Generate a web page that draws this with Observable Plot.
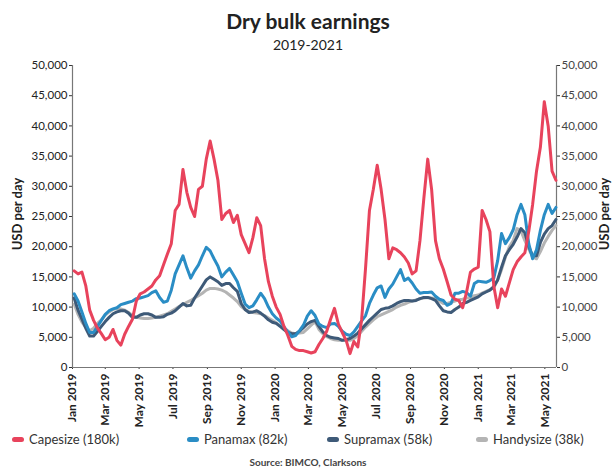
<!DOCTYPE html>
<html><head><meta charset="utf-8">
<script src="https://cdn.jsdelivr.net/npm/d3@7"></script>
<script src="https://cdn.jsdelivr.net/npm/@observablehq/plot@0.6"></script>
<style>
body{margin:0;background:#fff;font-family:Lato,"Open Sans",sans-serif;color:#333;}
#wrap{width:616px;height:471px;position:relative;overflow:hidden;}
.abs{position:absolute;white-space:nowrap;}
#title{top:8px;left:0;width:616px;text-align:center;font-weight:700;font-size:21px;color:#222;}
#sub{top:36px;left:0;width:616px;text-align:center;font-size:14px;color:#222;}
#chart{top:55px;left:0;}
.ylab{font-weight:700;font-size:13px;color:#222;transform:rotate(-90deg);transform-origin:center;}
.leg{top:431px;font-size:13px;color:#333;display:flex;align-items:center;}
.sw{display:inline-block;width:12px;height:5px;border-radius:3px;margin-right:5px;}
#src{top:456px;left:0;width:616px;text-align:center;font-size:10px;font-weight:700;color:#444;}
</style></head>
<body><div id="wrap">
<div id="title" class="abs">Dry bulk earnings</div>
<div id="sub" class="abs">2019-2021</div>
<div id="chart" class="abs"></div>
<div class="abs ylab" style="left:-23px;top:206px;width:80px;text-align:center;">USD per day</div>
<div class="abs ylab" style="left:564px;top:206px;width:80px;text-align:center;">USD per day</div>
<div id="legend"></div>
<div id="src" class="abs">Source: BIMCO, Clarksons</div>
</div>
<script>
// weekly observations starting 4 Jan 2019
const firstWeek = "2019-01-04";
const capesize = [16000,15500,15800,13500,9500,7800,6500,5600,4600,5000,6300,4500,3700,5500,6800,8000,11000,12200,12500,13000,13500,14500,15200,17000,18800,20500,26000,27000,32800,29000,26500,25000,29500,30000,34500,37500,34500,31000,24500,25500,26000,24000,25200,22000,20500,19000,21500,24800,23500,18000,14200,11800,10000,8800,6800,5300,3500,3000,2800,2800,2600,2400,2600,3800,4800,6000,8000,9800,7200,5800,4500,2300,4300,3400,8000,16500,26000,29500,33500,29500,24500,18000,19800,19500,19000,18300,17300,15500,16000,21000,28000,34500,29500,21000,18000,16300,14200,12000,11300,11100,9900,12500,15800,16300,16600,26000,24500,22500,13500,9900,13000,11800,14000,16200,17500,18300,19000,22500,27000,32500,36500,44000,40000,32500,31000];
const panamax = [12200,11000,9200,7300,5800,5800,6800,7800,8800,9400,9700,9900,10400,10600,10800,11000,11400,11500,11700,11900,12400,12700,11600,10800,11000,12800,15500,17000,18500,16500,14800,16000,17000,18500,19900,19300,18000,16800,15000,15800,16400,15300,14200,12300,10500,9900,10200,11200,12300,11400,10000,8900,8200,7700,6700,5900,5100,5300,6100,7000,8500,9400,8600,7200,6800,6600,7200,7300,6800,6000,5500,5300,5900,6800,7700,8600,10600,12000,13200,13500,11600,13000,13800,15000,16200,14400,14800,14000,13000,12300,12400,12400,12500,11800,11300,11100,10300,10600,12300,12300,12600,12400,11800,13900,14300,14200,14100,14400,14800,17700,22200,20500,21500,22800,25300,27000,25300,20500,18000,19500,22700,25300,27000,25500,26500];
const supramax = [11500,9500,8000,6500,5200,5200,6000,6800,7600,8300,8900,9200,9400,9400,9000,8300,8300,8700,8900,8900,8700,8300,8300,8400,8800,9000,9400,10000,10600,10200,10300,11500,12500,13500,14500,15000,14600,14200,13600,13900,13900,13200,12600,10600,9600,9100,9200,9400,9000,8500,7900,7500,7300,6800,6300,5800,5600,5600,6000,6600,7200,7600,7800,6800,5900,5300,5000,4900,4800,4500,4600,4800,5200,5700,6400,7100,7800,8400,9000,9600,9800,9900,10200,10600,10900,11100,11100,11000,11100,11400,11600,11600,11400,11100,10200,9400,9200,9100,9600,10000,10600,10800,11100,11400,11700,12200,12500,12800,13400,14500,16600,18500,19500,20400,21600,23000,22300,20000,18500,18500,20700,22100,23000,23500,24500];
const handysize = [10500,8800,7500,6600,6100,6500,7300,7900,8700,9200,9600,9800,9700,9500,9100,8600,8300,8200,8100,8100,8200,8300,8500,8700,8900,9300,9700,10100,10400,10800,11100,11500,11900,12300,12800,13100,13100,13000,12800,12500,12000,11500,10900,10100,9600,9300,9100,9000,8900,8600,8200,7800,7400,6900,6500,6100,5700,5600,5700,5800,6400,7000,7600,6300,5600,5100,4800,4600,4500,4500,4500,4500,4800,5300,6000,6700,7300,7900,8400,8700,9000,9300,9600,10000,10300,10500,10800,11000,11200,11400,11500,11600,11500,11400,11000,10600,10600,10800,11000,11200,11300,11500,11600,11900,12000,12300,12600,12900,13200,14500,16200,18300,20000,21000,23000,22600,21000,19600,18300,18000,19200,20600,21700,22700,23500];
const seriesNames = ["Handysize (38k)","Supramax (58k)","Panamax (82k)","Capesize (180k)"];
const seriesColors = ["#b4b4b4","#3e5a78","#2a8dc5","#e8435c"];
const yTicks = [0,5000,10000,15000,20000,25000,30000,35000,40000,45000,50000];
const xTickMonths = ["2019-01-01","2019-03-01","2019-05-01","2019-07-01","2019-09-01","2019-11-01","2020-01-01","2020-03-01","2020-05-01","2020-07-01","2020-09-01","2020-11-01","2021-01-01","2021-03-01","2021-05-01"];
const xDomain = ["2019-01-01","2021-05-22"];

const t0 = new Date(firstWeek + "T00:00:00Z");
const dates = capesize.map((_, i) => d3.utcDay.offset(t0, i * 7));
const seriesValues = [handysize, supramax, panamax, capesize];
const rows = [];
seriesValues.forEach((vals, k) => vals.forEach((v, i) => rows.push({date: dates[i], value: v, name: seriesNames[k]})));
const dom = xDomain.map(s => new Date(s + "T00:00:00Z"));
const fmtY = d3.format(",");

const chart = Plot.plot({
  width: 616, height: 380,
  marginTop: 10, marginBottom: 68, marginLeft: 72, marginRight: 60,
  style: {fontFamily: "Lato, 'Open Sans', sans-serif", fontSize: "12px", color: "#333", background: "transparent"},
  x: {type: "utc", domain: dom},
  y: {domain: [0, 50000]},
  color: {domain: seriesNames, range: seriesColors},
  marks: [
    Plot.axisY({anchor: "left", ticks: yTicks, tickFormat: fmtY, tickSize: 3, tickPadding: 2, label: null, fontSize: 11.5, fill: "#222"}),
    Plot.axisY({anchor: "right", ticks: yTicks, tickFormat: fmtY, tickSize: 3, tickPadding: 2, label: null, fontSize: 11.5, fill: "#444"}),
    Plot.axisX({ticks: xTickMonths.map(s => new Date(s + "T00:00:00Z")), tickFormat: d3.utcFormat("%b %Y"), tickRotate: -90, tickSize: 2, tickPadding: 4, label: null, fontSize: 12, fontWeight: "bold", fill: "#222"}),
    Plot.ruleX(dom, {stroke: "#777", strokeWidth: 1.2}),
    Plot.ruleY([0], {stroke: "#777", strokeWidth: 1.2}),
    Plot.line(rows, {x: "date", y: "value", z: "name", stroke: "name", strokeWidth: 3, strokeLinejoin: "round", curve: "linear"})
  ]
});
document.getElementById("chart").appendChild(chart);

const legendPos = {"Capesize (180k)": 12, "Panamax (82k)": 187, "Supramax (58k)": 327, "Handysize (38k)": 476};
const legend = document.getElementById("legend");
["Capesize (180k)","Panamax (82k)","Supramax (58k)","Handysize (38k)"].forEach(n => {
  const k = seriesNames.indexOf(n);
  const d = document.createElement("div");
  d.className = "abs leg";
  d.style.left = legendPos[n] + "px";
  d.innerHTML = `<span class="sw" style="background:${seriesColors[k]}"></span>${n}`;
  legend.appendChild(d);
});
</script>
</body></html>
